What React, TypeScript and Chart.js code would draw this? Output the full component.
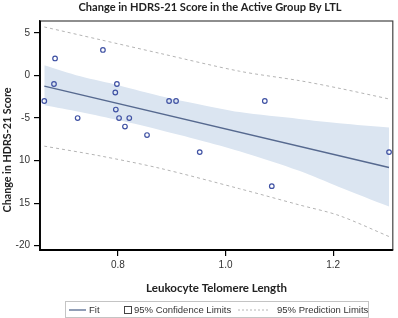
import React, { useEffect, useRef } from "react";
import { Chart, registerables } from "chart.js";
Chart.register(...registerables);

const titleText = "Change in HDRS-21 Score in the Active Group By LTL";
const xTitle = "Leukocyte Telomere Length";
const yTitle = "Change in HDRS-21 Score";

const ltl = [0.663, 0.683, 0.681, 0.725, 0.772, 0.798, 0.795, 0.796, 0.802, 0.821, 0.813, 0.854, 0.895, 0.908, 0.952, 1.073, 1.086, 1.304];
const hdrs = [-3, 2, -1, -5, 3, -1, -2, -4, -5, -5, -6, -7, -3, -3, -9, -3, -13, -9];

const fitX = [0.663, 1.304];
const fitY = [-1.25, -10.8];

const bandX = [0.663, 0.73, 0.804, 0.878, 0.952, 1.026, 1.137, 1.211, 1.304];
const bandUpper = [1.2, -0.1, -1.2, -2.4, -3.4, -4.3, -5.1, -5.6, -6.1];
const bandLower = [-3.5, -4.3, -5.3, -6.4, -7.6, -8.9, -11.2, -13.1, -15.4];

const predX = [0.663, 0.767, 0.878, 1.026, 1.137, 1.211, 1.307];
const predUpper = [5.7, 4.2, 2.6, 0.5, -0.6, -1.5, -2.8];
const predLower = [-8.3, -9.45, -10.9, -13.3, -15.2, -16.45, -19.0];

const xTickValues = [0.8, 1.0, 1.2];
const xTickLabels = ["0.8", "1.0", "1.2"];
const yTickValues = [5, 0, -5, -10, -15, -20];
const yTickLabels = ["5", "0", "-5", "10", "15", "-20"];

const legendLabels = ["Fit", "95% Confidence Limits", "95% Prediction Limits"];

const FIT_COLOR = "#56698f";
const BAND_COLOR = "#dbe5f1";
const PRED_COLOR = "#b4b4b4";
const POINT_COLOR = "#3f51a3";
const TEXT_COLOR = "#222";

const zip = (xs: number[], ys: number[]) => xs.map((x, i) => ({ x, y: ys[i] }));

function fitFont(ctx: CanvasRenderingContext2D, text: string, weight: string, family: string, target: number) {
  ctx.font = `${weight} 20px ${family}`;
  const w = ctx.measureText(text).width;
  const size = (20 * target) / w;
  return `${weight} ${size.toFixed(2)}px ${family}`;
}

const decor = {
  id: "decor",
  afterDraw(chart: any) {
    const ctx: CanvasRenderingContext2D = chart.ctx;
    const a = chart.chartArea;
    ctx.save();
    // plot frame
    ctx.strokeStyle = "#444";
    ctx.lineWidth = 1.2;
    ctx.strokeRect(a.left, a.top, a.right - a.left, a.bottom - a.top);
    ctx.strokeStyle = "#000";
    ctx.lineWidth = 1.8;
    ctx.beginPath();
    ctx.moveTo(a.left, a.top);
    ctx.lineTo(a.left, a.bottom);
    ctx.lineTo(a.right, a.bottom);
    ctx.stroke();

    // title
    ctx.fillStyle = TEXT_COLOR;
    ctx.textBaseline = "middle";
    ctx.textAlign = "center";
    ctx.font = fitFont(ctx, titleText, "bold", "Lato", 263);
    ctx.fillText(titleText, 210, 7);
    // x title
    ctx.font = fitFont(ctx, xTitle, "bold", "Lato", 141);
    ctx.fillText(xTitle, 216.5, 288);
    // y title
    ctx.save();
    ctx.translate(7.5, 150);
    ctx.rotate(-Math.PI / 2);
    ctx.font = fitFont(ctx, yTitle, "bold", "Lato", 125);
    ctx.fillText(yTitle, 0, 0);
    ctx.restore();

    // legend
    const ly = 310;
    ctx.strokeStyle = "#c4c4c4";
    ctx.lineWidth = 1;
    ctx.strokeRect(65.5, 301.5, 303, 16);
    ctx.strokeStyle = FIT_COLOR;
    ctx.lineWidth = 1.3;
    ctx.beginPath();
    ctx.moveTo(69, ly);
    ctx.lineTo(86, ly);
    ctx.stroke();
    ctx.strokeStyle = "#444";
    ctx.lineWidth = 1;
    ctx.strokeRect(124.5, 306.5, 7, 7);
    ctx.strokeStyle = PRED_COLOR;
    ctx.setLineDash([2, 2]);
    ctx.beginPath();
    ctx.moveTo(238, ly);
    ctx.lineTo(268, ly);
    ctx.stroke();
    ctx.setLineDash([]);
    ctx.fillStyle = "#333";
    ctx.textAlign = "left";
    ctx.font = "9.5px 'Liberation Sans', Arial, sans-serif";
    ctx.fillText(legendLabels[0], 89, ly);
    ctx.fillText(legendLabels[1], 134, ly);
    ctx.fillText(legendLabels[2], 277, ly);
    ctx.restore();
  },
};

export default function App() {
  const ref = useRef<HTMLCanvasElement>(null);
  useEffect(() => {
    const canvas = ref.current!;
    const chart = new Chart(canvas, {
      type: "scatter",
      data: {
        datasets: [
          {
            type: "scatter",
            data: zip(ltl, hdrs),
            pointStyle: "circle",
            pointRadius: 2.3,
            borderWidth: 1.2,
            borderColor: POINT_COLOR,
            backgroundColor: "rgba(0,0,0,0)",
          } as any,
          {
            type: "line",
            data: zip(fitX, fitY),
            borderColor: FIT_COLOR,
            borderWidth: 1.5,
            pointRadius: 0,
            fill: false,
          },
          {
            type: "line",
            data: zip(predX, predUpper),
            borderColor: PRED_COLOR,
            borderWidth: 1,
            borderDash: [3, 3],
            pointRadius: 0,
            tension: 0.3,
            fill: false,
          },
          {
            type: "line",
            data: zip(predX, predLower),
            borderColor: PRED_COLOR,
            borderWidth: 1,
            borderDash: [3, 3],
            pointRadius: 0,
            tension: 0.3,
            fill: false,
          },
          {
            type: "line",
            data: zip(bandX, bandUpper),
            borderWidth: 0,
            borderColor: "rgba(0,0,0,0)",
            backgroundColor: BAND_COLOR,
            pointRadius: 0,
            tension: 0.3,
            fill: "+1",
          },
          {
            type: "line",
            data: zip(bandX, bandLower),
            borderWidth: 0,
            borderColor: "rgba(0,0,0,0)",
            pointRadius: 0,
            tension: 0.3,
            fill: false,
          },
        ],
      },
      options: {
        animation: false,
        responsive: false,
        layout: { padding: { top: 21, right: 4, left: 0, bottom: 0 } },
        plugins: {
          legend: { display: false },
          title: { display: false },
          tooltip: { enabled: false },
        },
        scales: {
          x: {
            type: "linear",
            min: 0.655,
            max: 1.311,
            afterBuildTicks: (s: any) => {
              s.ticks = xTickValues.map((v) => ({ value: v }));
            },
            afterFit: (s: any) => {
              s.height = 68;
            },
            ticks: {
              padding: 3,
              color: "#333",
              font: { family: "'Liberation Sans', Arial, sans-serif", size: 10 },
              maxRotation: 0,
              callback: (v: any) => {
                const i = xTickValues.findIndex((t) => Math.abs(t - v) < 1e-6);
                return i >= 0 ? xTickLabels[i] : "";
              },
            },
            grid: { display: true, drawOnChartArea: false, drawTicks: true, tickLength: 6, color: "#000", lineWidth: 1.2 },
            border: { display: true, color: "#000", width: 1.5 },
          },
          y: {
            type: "linear",
            min: -20.5,
            max: 6.4,
            afterBuildTicks: (s: any) => {
              s.ticks = yTickValues.map((v) => ({ value: v }));
            },
            afterFit: (s: any) => {
              s.width = 40;
            },
            ticks: {
              padding: 4,
              color: "#333",
              font: { family: "'Liberation Sans', Arial, sans-serif", size: 10 },
              callback: (v: any) => {
                const i = yTickValues.findIndex((t) => Math.abs(t - v) < 1e-6);
                return i >= 0 ? yTickLabels[i] : "";
              },
            },
            grid: { display: true, drawOnChartArea: false, drawTicks: true, tickLength: 6, color: "#000", lineWidth: 1.2 },
            border: { display: true, color: "#000", width: 1.5 },
          },
        },
      },
      plugins: [decor],
    });
    return () => chart.destroy();
  }, []);
  return (
    <div style={{ position: "fixed", left: 0, top: 0, width: 398, height: 318, background: "#fff" }}>
      <canvas ref={ref} width={398} height={318} style={{ display: "block", width: 398, height: 318 }} />
    </div>
  );
}
